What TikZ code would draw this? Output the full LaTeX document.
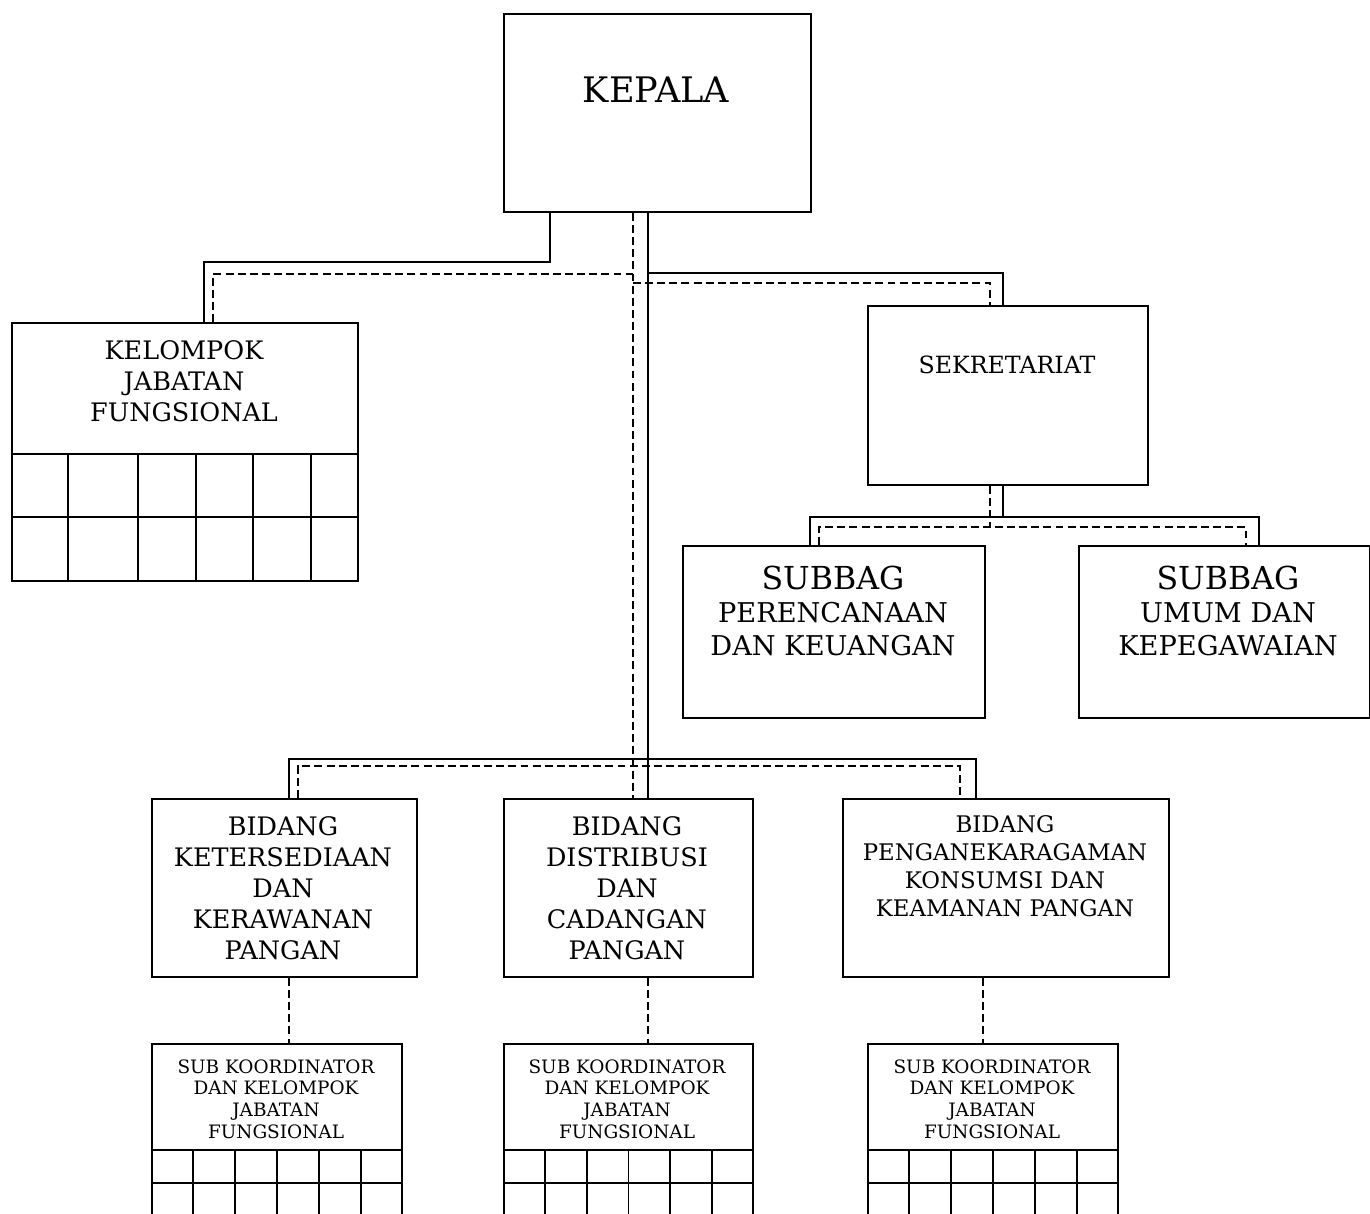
\documentclass[tikz,border=0pt]{standalone}
\usepackage{fontspec}
\setmainfont{DejaVu Serif}
\usetikzlibrary{positioning,calc}

\tikzset{
  box/.style={draw, line width=1.1pt, inner sep=0pt, anchor=north west},
  sz/.style 2 args={minimum width=#1*0.02cm, minimum height=#2*0.02cm},
  txt/.style={align=center, inner sep=0pt},
  ln/.style={line width=1.1pt},
  dln/.style={line width=1pt, dash pattern=on 4.5pt off 2.4pt},
}

\begin{document}
\begin{tikzpicture}[x=0.02cm, y=-0.02cm]
  \useasboundingbox (0,0) rectangle (1370,1214);

  % Boxes
  \node[box, sz={307}{198}] (kepala) at (503,13) {};
  \node[box, sz={346}{258}] (kjf) at (11,322) {};
  \node[box, sz={280}{179}] (sek) at (867,305) {};
  \node[box, sz={302}{172}] (subA) at (682,545) {};
  \node[box, sz={291}{172}] (subB) at (1078,545) {};
  \node[box, sz={265}{178}] (bid1) at (151,798) {};
  \node[box, sz={249}{178}] (bid2) at (503,798) {};
  \node[box, sz={326}{178}] (bid3) at (842,798) {};
  \node[box, sz={250}{200}] (sub1) at (151,1043) {};
  \node[box, sz={249}{200}] (sub2) at (503,1043) {};
  \node[box, sz={250}{200}] (sub3) at (867,1043) {};

  % Texts
  \node[txt, font=\fontsize{20}{24}\selectfont] (kepalaTxt) at (656,90) {KEPALA};
  \node[txt, font=\fontsize{14.5}{17.6}\selectfont] (kjfTxt) at (184,381)
    {KELOMPOK\\JABATAN\\FUNGSIONAL};
  \node[txt, font=\fontsize{13.5}{16}\selectfont] (sekTxt) at (1007,365) {SEKRETARIAT};
  \node[txt, font=\fontsize{15.5}{19}\selectfont] (subATxt) at (833,611)
    {{\fontsize{18}{19}\selectfont SUBBAG}\\PERENCANAAN\\DAN KEUANGAN};
  \node[txt, font=\fontsize{15.5}{19}\selectfont] (subBTxt) at (1228,611)
    {{\fontsize{18}{19}\selectfont SUBBAG}\\UMUM DAN\\KEPEGAWAIAN};
  \node[txt, font=\fontsize{14.5}{17.6}\selectfont] (bid1Txt) at (283,888)
    {BIDANG\\KETERSEDIAAN\\DAN\\KERAWANAN\\PANGAN};
  \node[txt, font=\fontsize{14.5}{17.6}\selectfont] (bid2Txt) at (627,888)
    {BIDANG\\DISTRIBUSI\\DAN\\CADANGAN\\PANGAN};
  \node[txt, font=\fontsize{13}{16}\selectfont] (bid3Txt) at (1005,866)
    {BIDANG\\PENGANEKARAGAMAN\\KONSUMSI DAN\\KEAMANAN PANGAN};
  \foreach \s/\x in {sub1/276, sub2/627, sub3/992}
    \node[txt, font=\fontsize{10.5}{12.4}\selectfont] (\s Txt) at (\x,1099)
      {SUB KOORDINATOR\\DAN KELOMPOK\\JABATAN\\FUNGSIONAL};

  % Grid under KJF
  \foreach \y in {454,517}
    \draw[ln] (kjf.west |- 0,\y) -- (kjf.east |- 0,\y);
  \foreach \x in {68,138,196,253,311}
    \draw[ln] (\x,454) -- (kjf.south -| \x,0);

  % Grids under sub boxes
  \coordinate (gridTop) at (0,1150);
  \foreach \s in {sub1,sub2,sub3} {
    \foreach \y in {1150,1183}
      \draw[ln] (\s.west |- 0,\y) -- (\s.east |- 0,\y);
    \foreach \k in {1,...,5} {
      \coordinate (col) at ($(\s.north west)!\k/6!(\s.north east)$);
      \draw[ln] (col |- gridTop) -- (col |- \s.south);
    }
  }

  % Bends
  \coordinate (kjfBend) at (550,262);
  \coordinate (kjfDash) at (633,274);
  \coordinate (sekBend) at (648,273);
  \coordinate (sekDash) at (633,283);
  \coordinate (subBus) at (1003,517);
  \coordinate (subDash) at (990,527);
  \coordinate (bidBus) at (648,759);
  \coordinate (bidDash) at (633,766);

  % Solid lines
  \draw[ln] (kepala.south -| kjfBend) -- (kjfBend) -| (kjf.north -| 204,0);
  \draw[ln] (kepala.south -| bidBus) -- (bid2.north -| bidBus);
  \draw[ln] (sekBend) -| (sek.north -| subBus);
  \draw[ln] (sek.south -| subBus) -- (subBus);
  \draw[ln] (subA.north -| 810,0) |- (subBus) -| (subB.north -| 1259,0);
  \draw[ln] (bid1.north -| 289,0) |- (bidBus) -| (bid3.north -| 976,0);

  % Dashed lines
  \draw[dln] (kepala.south -| bidDash) -- (bid2.north -| bidDash);
  \draw[dln] (kjf.north -| 213,0) |- (kjfDash);
  \draw[dln] (sekDash) -| (sek.north -| subDash);
  \draw[dln] (sek.south -| subDash) -- (subDash);
  \draw[dln] (subA.north -| 819,0) |- (subDash) -| (subB.north -| 1246,0);
  \draw[dln] (bid1.north -| 298,0) |- (bidDash) -| (bid3.north -| 960,0);
  \draw[dln] (bid1.south -| 289,0) -- (sub1.north -| 289,0);
  \draw[dln] (bid2.south -| 648,0) -- (sub2.north -| 648,0);
  \draw[dln] (bid3.south -| 983,0) -- (sub3.north -| 983,0);
\end{tikzpicture}
\end{document}
